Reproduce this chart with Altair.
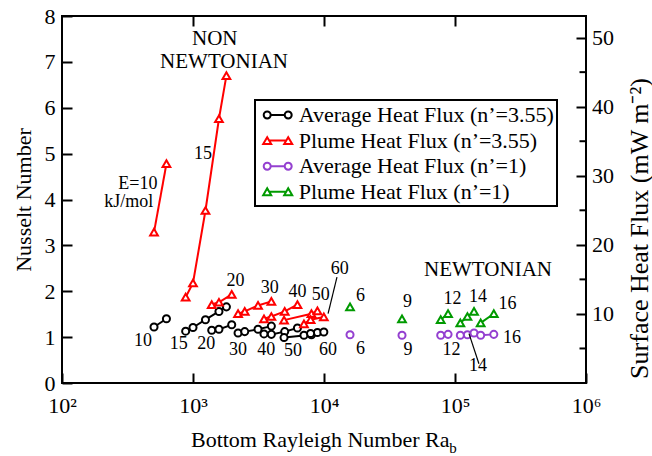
import altair as alt
import pandas as pd

# ---------------- data ----------------
# non-Newtonian runs (n' = 3.55), grouped by activation energy E (kJ/mol)
nn_E = [10, 10, 15, 15, 15, 15, 15, 20, 20, 20, 30, 30, 30, 30, 40, 40, 40, 40, 50, 50, 50, 60, 60, 60]
nn_Ra = [504, 627, 879, 1000, 1245, 1578, 1799, 1390, 1578, 1975, 2208, 2483, 3136, 3964,
         3483, 3964, 5013, 6270, 4955, 8020, 8910, 7030, 7900, 9970]
nn_avg = [1.22, 1.40, 1.13, 1.21, 1.38, 1.56, 1.66, 1.15, 1.17, 1.27, 1.09, 1.12, 1.17, 1.24,
          1.07, 1.06, 1.12, 1.20, 0.99, 1.05, 1.10, 1.04, 1.08, 1.11]
nn_plume = [3.29, 4.78, 1.87, 2.18, 3.76, 5.76, 6.70, 1.71, 1.76, 1.93, 1.51, 1.56, 1.69, 1.78,
            1.40, 1.45, 1.56, 1.71, 1.37, 1.51, 1.57, 1.29, 1.38, 1.44]

# Newtonian runs (n' = 1)
n1_E = [6, 9, 12, 12, 14, 14, 14, 16, 16]
n1_Ra = [15800, 39400, 77800, 88500, 109800, 124400, 139700, 157000, 197800]
n1_avg = [1.05, 1.04, 1.04, 1.06, 1.04, 1.05, 1.09, 1.04, 1.06]
n1_plume = [1.66, 1.40, 1.38, 1.51, 1.31, 1.45, 1.56, 1.31, 1.51]

SERIES = ["Average Heat Flux (n\u2019=3.55)", "Plume Heat Flux (n\u2019=3.55)",
          "Average Heat Flux (n\u2019=1)", "Plume Heat Flux (n\u2019=1)"]

# annotations
ann_text = ["10", "15", "20", "30", "40", "50", "60",
            "20", "30", "40", "50", "60",
            "15", "E=10", "kJ/mol", "NON", "NEWTONIAN",
            "6", "9", "12", "14", "16",
            "6", "9", "12", "14", "16", "NEWTONIAN"]
ann_ra = [415, 778, 1265, 2208, 3631, 5796, 10740,
          2108, 3846, 6270, 9440, 13190,
          1191, 380, 323, 1466, 1726,
          18970, 43350, 95500, 149900, 251400,
          18970, 43700, 93900, 149900, 272000, 178600]
ann_nu = [0.915, 0.84, 0.84, 0.73, 0.71, 0.70, 0.71,
          2.22, 2.06, 1.98, 1.91, 2.49,
          5.0, 4.344, 3.95, 7.49, 6.99,
          1.895, 1.765, 1.84, 1.87, 1.73,
          0.75, 0.71, 0.71, 0.37, 0.98, 2.455]
ann_fs = [18] * 15 + [21, 21] + [18] * 10 + [21]

# leader lines
lead_ra = [12560, 127900]
lead_nu = [2.31, 1.076]
lead_ra2 = [10740, 152300]
lead_nu2 = [1.51, 0.42]

x_ticks = [100, 1000, 10000, 100000, 1000000]
nu_ticks = [0, 1, 2, 3, 4, 5, 6, 7, 8]
hf_ticks = [10, 20, 30, 40, 50]
hf_minor = [5, 15, 25, 35, 45]

# ---------------- styling ----------------
FONT = "Liberation Serif"
W, H = 524, 367
HF_PER_NU = 6.641
BLACK, RED, PURPLE, GREEN = "#000000", "#ff0000", "#9440d0", "#009a00"

CIRC = ("M -1.273 0 A 0.318 0.318 0 1 0 -0.637 0 A 0.318 0.318 0 1 0 -1.273 0 Z "
        "M -0.637 0 L 0.637 0 "
        "M 0.637 0 A 0.318 0.318 0 1 0 1.273 0 A 0.318 0.318 0 1 0 0.637 0 Z")
TRI = ("M -0.955 -0.315 L -1.319 0.315 L -0.591 0.315 Z "
       "M -0.773 0 L 0.773 0 "
       "M 0.955 -0.315 L 0.591 0.315 L 1.319 0.315 Z")

nn = pd.DataFrame({"E": nn_E, "Ra": nn_Ra, "avg": nn_avg, "plume": nn_plume})
n1 = pd.DataFrame({"E": n1_E, "Ra": n1_Ra, "avg": n1_avg, "plume": n1_plume})
ann = pd.DataFrame({"t": ann_text, "Ra": ann_ra, "Nu": ann_nu, "fs": ann_fs})
lead = pd.DataFrame({"Ra": lead_ra, "Nu": lead_nu, "Ra2": lead_ra2, "Nu2": lead_nu2})
allpts = pd.concat([
    pd.DataFrame({"Ra": nn_Ra, "Nu": nn_avg, "series": SERIES[0]}),
    pd.DataFrame({"Ra": nn_Ra, "Nu": nn_plume, "series": SERIES[1]}),
    pd.DataFrame({"Ra": n1_Ra, "Nu": n1_avg, "series": SERIES[2]}),
    pd.DataFrame({"Ra": n1_Ra, "Nu": n1_plume, "series": SERIES[3]}),
])

xscale = alt.Scale(type="log", domain=[100, 1000000], nice=False)
yscale = alt.Scale(domain=[0, 8], nice=False)

axis_common = dict(domain=False, grid=False, tickColor="black", tickWidth=2, tickSize=10, offset=-10,
                   labelFont=FONT, labelFontSize=22, labelColor="black", labelFlush=False,
                   labelOverlap=False, titleFont=FONT, titleFontWeight="normal",
                   titleColor="black")

x_axis = alt.Axis(orient="bottom", values=x_ticks,
                  labelExpr="'10' + ['\u2070','\u00b9','\u00b2','\u00b3','\u2074','\u2075','\u2076'][round(log(datum.value)/LN10)]",
                  labelPadding=12, title="Bottom Rayleigh Number Ra", titleFontSize=22,
                  titleX=257.7, titleY=73.8,
                  titleBaseline="alphabetic", titleAlign="center", **axis_common)
y_axis = alt.Axis(orient="left", values=nu_ticks, format="d", labelPadding=7,
                  title="Nusselt Number", titleFontSize=22, titleX=-49, titleY=183.5, titleAngle=270,
                  titleBaseline="middle", titleAlign="center", **axis_common)


def X(field="Ra"):
    return alt.X(f"{field}:Q", scale=xscale, axis=x_axis)


def Y(field):
    return alt.Y(f"{field}:Q", scale=yscale, axis=y_axis)


def series_layers(df, field, color, shape, size):
    line = alt.Chart(df).mark_line(color=color, strokeWidth=2).encode(
        x=X(), y=Y(field), detail="E:N")
    pts = alt.Chart(df).mark_point(shape=shape, size=size, filled=True, fill="white",
                                   stroke=color, strokeWidth=2, opacity=1).encode(x=X(), y=Y(field))
    return [line, pts]


layers_a = []
layers_a += series_layers(nn, "avg", BLACK, "circle", 50)
layers_a += series_layers(nn, "plume", RED, "triangle-up", 60)
layers_a += series_layers(n1, "avg", PURPLE, "circle", 50)
layers_a += series_layers(n1, "plume", GREEN, "triangle-up", 60)

layers_a.append(alt.Chart(lead).mark_rule(color="black", strokeWidth=1.2).encode(
    x=X(), y=Y("Nu"), x2="Ra2:Q", y2="Nu2:Q"))
layers_a.append(alt.Chart(ann).mark_text(font=FONT, color="black", align="center", baseline="middle").encode(
    x=X(), y=Y("Nu"), text="t:N", size=alt.Size("fs:Q", scale=None, legend=None)))
layers_a.append(alt.Chart(pd.DataFrame({"t": ["b"]})).mark_text(
    font=FONT, fontSize=15, color="black", align="center", baseline="alphabetic").encode(
    text="t:N", x=alt.value(391), y=alt.value(437.3)))

layer_a = alt.layer(*layers_a)

# right axis (surface heat flux) with minor ticks
layer_b = alt.Chart(pd.DataFrame({"hf": hf_minor})).mark_rule(color="black", strokeWidth=2).encode(
    x=alt.value(W), x2=alt.value(W - 6.5),
    y=alt.Y("hf:Q", scale=alt.Scale(domain=[0, 8 * HF_PER_NU], nice=False),
            axis=alt.Axis(orient="right", values=hf_ticks, format="d", labelPadding=5.5,
                          title="Surface Heat Flux (mW m\u207b\u00b2)", titleFontSize=26,
                          titleAngle=270, titleX=63,
                          titleY=212, titleBaseline="middle", titleAlign="center", **axis_common)))

# top axis + legend
leg = alt.Legend(title=None, orient="none", legendX=193, legendY=84, padding=3,
                 strokeColor="black", fillColor="white", symbolSize=484, symbolStrokeWidth=2,
                 symbolOpacity=1, symbolOffset=7.7, labelOffset=9, labelFont=FONT,
                 labelFontSize=22, labelColor="black", labelLimit=400, rowPadding=2.6)
layer_c = alt.Chart(allpts).mark_point(opacity=0, filled=False).encode(
    x=alt.X("Ra:Q", scale=xscale, axis=alt.Axis(orient="top", values=[1000, 10000, 100000],
                                                  labels=False, title=None, **axis_common)),
    y=alt.Y("Nu:Q", scale=yscale, axis=None),
    color=alt.Color("series:N", scale=alt.Scale(domain=SERIES, range=[BLACK, RED, PURPLE, GREEN]), legend=leg),
    shape=alt.Shape("series:N", scale=alt.Scale(domain=SERIES, range=[CIRC, TRI, CIRC, TRI]), legend=leg),
)

chart = alt.layer(layer_a, layer_b, layer_c).resolve_scale(
    y="independent").resolve_axis(x="independent").properties(
    width=W, height=H, background="white",
    padding={"left": 62, "top": 16, "right": 66, "bottom": 73},
    autosize=alt.AutoSizeParams(type="none"),
).configure(font=FONT).configure_view(stroke="black", strokeWidth=2).configure_legend(strokeWidth=2)

chart.save("out.html", embed_options={"renderer": "svg", "actions": False})
